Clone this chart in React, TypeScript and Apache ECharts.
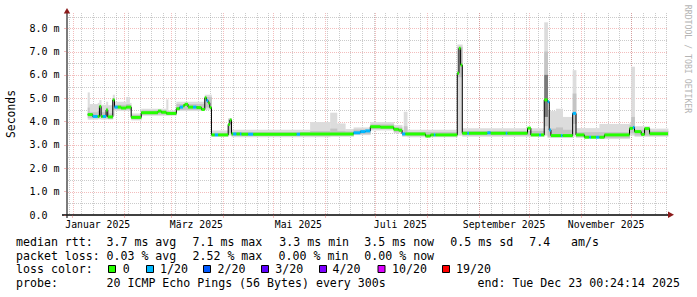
import { useEffect, useRef } from "react";
import * as echarts from "echarts";

// ---------------- data ----------------
const startTime = "2024-12-28T00:24:14";
const endTime = "2025-12-23T00:24:14";
const firstMonday = "2024-12-30";

const monthStarts = [
  "2025-01-01", "2025-02-01", "2025-03-01", "2025-04-01", "2025-05-01", "2025-06-01",
  "2025-07-01", "2025-08-01", "2025-09-01", "2025-10-01", "2025-11-01", "2025-12-01",
];
const labelDates = ["2025-01-16", "2025-03-16", "2025-05-16", "2025-07-16", "2025-09-16", "2025-11-16"];
const monthLabels = ["Januar 2025", "März 2025", "Mai 2025", "Juli 2025", "September 2025", "November 2025"];

const yTicks = [0, 1, 2, 3, 4, 5, 6, 7, 8];
const yMinor = [0.5, 1.5, 2.5, 3.5, 4.5, 5.5, 6.5, 7.5, 8.5];
const yTickLabels = ["0.0", "1.0 m", "2.0 m", "3.0 m", "4.0 m", "5.0 m", "6.0 m", "7.0 m", "8.0 m"];

// median rtt (ms), step starts; loss class index per step
const medianDates = [
  "2025-01-10", "2025-01-13", "2025-01-16", "2025-01-17", "2025-01-18", "2025-01-19", "2025-01-21", "2025-01-22",
  "2025-01-25", "2025-01-26", "2025-01-28", "2025-01-30", "2025-02-02", "2025-02-05", "2025-02-11", "2025-02-21",
  "2025-02-23", "2025-02-26", "2025-03-04", "2025-03-06", "2025-03-08", "2025-03-09", "2025-03-11", "2025-03-14",
  "2025-03-16", "2025-03-19", "2025-03-21", "2025-03-22", "2025-03-23", "2025-03-24", "2025-03-25", "2025-03-27",
  "2025-03-29", "2025-04-04", "2025-04-05", "2025-04-06", "2025-04-07", "2025-04-09", "2025-04-11", "2025-04-12",
  "2025-04-16", "2025-04-19", "2025-05-15", "2025-05-17", "2025-06-18", "2025-06-22", "2025-06-25", "2025-06-28",
  "2025-07-04", "2025-07-12", "2025-07-15", "2025-07-17", "2025-07-19", "2025-07-31", "2025-08-03", "2025-08-05",
  "2025-08-06", "2025-08-19", "2025-08-20", "2025-08-21", "2025-08-22", "2025-08-25", "2025-08-26", "2025-09-06",
  "2025-09-08", "2025-09-17", "2025-09-18", "2025-09-30", "2025-10-02", "2025-10-07", "2025-10-08", "2025-10-10",
  "2025-10-12", "2025-10-13", "2025-10-14", "2025-10-20", "2025-10-21", "2025-10-27", "2025-10-29", "2025-11-03",
  "2025-11-06", "2025-11-07", "2025-11-10", "2025-11-12", "2025-11-15", "2025-11-30", "2025-12-02", "2025-12-03",
  "2025-12-07", "2025-12-09", "2025-12-12",
];
const medianValues = [
  4.30, 4.22, 4.22, 4.65, 4.22, 4.22, 4.50, 4.20,
  4.93, 4.62, 4.62, 4.58, 4.62, 4.18, 4.38, 4.45,
  4.40, 4.35, 4.55, 4.62, 4.68, 4.74, 4.62, 4.62,
  4.60, 4.52, 5.02, 4.90, 4.80, 4.60, 3.43, 3.43,
  3.43, 3.88, 4.07, 3.47, 3.47, 3.47, 3.47, 3.46,
  3.46, 3.46, 3.46, 3.47, 3.52, 3.57, 3.60, 3.78,
  3.76, 3.67, 3.63, 3.47, 3.47, 3.38, 3.43, 3.43,
  3.43, 6.07, 7.14, 6.42, 3.50, 3.50, 3.50, 3.52,
  3.50, 3.50, 3.50, 3.72, 3.43, 3.43, 3.43, 4.93,
  4.85, 3.64, 3.40, 3.40, 3.40, 4.35, 3.43, 3.33,
  3.33, 3.33, 3.33, 3.33, 3.43, 3.71, 3.75, 3.57,
  3.45, 3.70, 3.48,
];
const medianLoss = [
  0, 1, 0, 0, 0, 1, 0, 0,
  0, 1, 0, 0, 0, 0, 0, 0,
  0, 0, 0, 1, 0, 0, 0, 1,
  0, 0, 0, 1, 0, 0, 0, 1,
  0, 0, 0, 0, 1, 0, 1, 0,
  1, 0, 1, 0, 1, 1, 1, 0,
  0, 0, 0, 1, 0, 0, 0, 1,
  0, 0, 0, 0, 0, 1, 0, 1,
  0, 1, 0, 0, 0, 1, 0, 0,
  1, 1, 0, 1, 0, 1, 0, 0,
  1, 0, 1, 0, 0, 0, 1, 0,
  0, 0, 0,
];

// smoke (spread of the 20 pings), step starts
const smokeDates = [
  "2025-01-10", "2025-01-11", "2025-01-16", "2025-01-17", "2025-01-18", "2025-01-21", "2025-01-22", "2025-01-25",
  "2025-01-26", "2025-02-02", "2025-02-04", "2025-02-05", "2025-02-11", "2025-02-26", "2025-02-27", "2025-03-04",
  "2025-03-21", "2025-03-25", "2025-04-04", "2025-04-06", "2025-05-23", "2025-06-04", "2025-06-08", "2025-06-13",
  "2025-06-18", "2025-06-28", "2025-07-12", "2025-07-17", "2025-07-18", "2025-07-20", "2025-08-19", "2025-08-22",
  "2025-10-10", "2025-10-12", "2025-10-17", "2025-10-21", "2025-10-27", "2025-10-29", "2025-11-12", "2025-11-30",
  "2025-12-01", "2025-12-03", "2025-12-12",
];
const smokeLow = [
  4.08, 4.08, 4.10, 4.10, 4.08, 4.10, 4.08, 4.25, 4.45, 4.45, 4.45, 4.05, 4.25, 4.25, 4.25, 4.45,
  4.50, 3.35, 3.40, 3.33, 3.33, 3.35, 3.35, 3.35, 3.42, 3.62, 3.50, 3.35, 3.35, 3.33, 3.40, 3.35,
  3.40, 3.30, 3.30, 3.30, 3.35, 3.30, 3.25, 3.40, 3.40, 3.35, 3.35,
];
const smokeHigh = [
  5.25, 4.75, 4.80, 4.92, 4.72, 4.85, 4.70, 5.15, 4.85, 5.05, 4.80, 4.35, 4.55, 4.95, 4.48, 4.85,
  5.15, 3.62, 4.15, 3.65, 3.98, 4.38, 3.92, 3.68, 3.75, 3.98, 3.85, 3.65, 4.42, 3.65, 7.30, 3.72,
  8.25, 4.45, 4.55, 4.20, 6.20, 3.72, 3.90, 3.95, 6.35, 3.80, 3.70,
];
const smokeInnerLow = [
  4.15, 4.15, 4.15, 4.20, 4.15, 4.15, 4.12, 4.50, 4.52, 4.52, 4.50, 4.10, 4.30, 4.28, 4.28, 4.50,
  4.60, 3.38, 3.50, 3.38, 3.38, 3.40, 3.40, 3.40, 3.46, 3.68, 3.55, 3.40, 3.40, 3.38, 5.90, 3.40,
  3.80, 3.35, 3.35, 3.35, 3.90, 3.35, 3.30, 3.50, 3.50, 3.40, 3.40,
];
const smokeInnerHigh = [
  4.60, 4.40, 4.45, 4.70, 4.40, 4.60, 4.35, 5.00, 4.72, 4.75, 4.70, 4.28, 4.48, 4.45, 4.42, 4.75,
  5.05, 3.52, 4.10, 3.55, 3.60, 3.70, 3.60, 3.58, 3.66, 3.88, 3.75, 3.55, 3.80, 3.55, 7.20, 3.60,
  7.00, 3.70, 3.75, 3.65, 5.20, 3.55, 3.55, 3.85, 4.20, 3.65, 3.60,
];
const darkStart = ["2025-10-10"];
const darkEnd = ["2025-10-12"];
const darkLow = [4.2];
const darkHigh = [6.0];

// legend
const lossColors = ["#26ff00", "#00b8ff", "#0059ff", "#5e00ff", "#7e00ff", "#dd00ff", "#ff0000"];
const lossNames = ["0", "1/20", "2/20", "3/20", "4/20", "10/20", "19/20"];
const rttTexts = ["median rtt:", "3.7 ms avg", "7.1 ms max", "3.3 ms min", "3.5 ms now", "0.5 ms sd", "7.4", "am/s"];
const lossTexts = ["packet loss:", "0.03 % avg", "2.52 % max", "0.00 % min", "0.00 % now"];
const probeTexts = ["probe:", "20 ICMP Echo Pings (56 Bytes) every 300s", "end: Tue Dec 23 00:24:14 2025"];

// ---------------- layout ----------------
const W = 697, H = 297;
const GL = 66, GT = 13, GR = 667, GB = 215;
const Y_MAX = 8.65;
const MONO = '"DejaVu Sans Mono", monospace';
const rttX = [16, 106.5, 192.5, 279.3, 364.3, 450.3, 529.3, 571];
const lossX = [16, 106.5, 192.5, 278.6, 364.3];
const probeX = [16, 106.5, 477.5];
const boxX = [108, 146, 203, 261, 319, 377.5, 442];
const boxLabelX = [122.7, 160, 217.6, 275.3, 332.6, 392, 456];
const rowY = [241.5, 255.5, 269.3, 283.2];
const RED = "rgba(225,90,90,0.4)";
const GREY = "rgba(140,140,140,0.45)";

const DAY = 86400000;
const ts = (s: string) => Date.parse(s.length === 10 ? `${s}T00:00:00Z` : `${s}Z`);

export default function App() {
  const ref = useRef<HTMLDivElement>(null);
  useEffect(() => {
    const el = ref.current;
    if (!el) return;
    const chart = echarts.init(el, undefined, { renderer: "svg", width: W, height: H });
    const xMin = ts(startTime);
    const xMax = ts(endTime);

    const mondays: number[] = [];
    for (let d = ts(firstMonday); d < xMax; d += 7 * DAY) mondays.push(d);
    const months = monthStarts.map(ts);
    const labelTs = labelDates.map(ts);

    const medianSeg = medianDates.map((d, i) => [
      ts(d), i + 1 < medianDates.length ? ts(medianDates[i + 1]) : xMax, medianValues[i], medianLoss[i],
    ]);
    const medianLine: number[][] = medianDates.map((d, i) => [ts(d), medianValues[i]]);
    medianLine.push([xMax, medianValues[medianValues.length - 1]]);

    const segEnd = (i: number) => (i + 1 < smokeDates.length ? ts(smokeDates[i + 1]) : xMax);
    const smokeOuter = smokeDates.map((d, i) => [ts(d), segEnd(i), smokeLow[i], smokeHigh[i]]);
    const smokeInner = smokeDates.map((d, i) => [ts(d), segEnd(i), smokeInnerLow[i], smokeInnerHigh[i]]);
    const smokeDark = darkStart.map((d, i) => [ts(d), ts(darkEnd[i]), darkLow[i], darkHigh[i]]);

    const rectRender = (color: string) => (_p: any, api: any) => {
      const a = api.coord([api.value(0), api.value(3)]);
      const b = api.coord([api.value(1), api.value(2)]);
      return {
        type: "rect",
        shape: { x: a[0], y: a[1], width: b[0] - a[0] + 0.4, height: b[1] - a[1] },
        style: { fill: color },
      };
    };

    const vLine = (color: string) => (_p: any, api: any) => {
      const b = api.coord([api.value(0), 0]);
      const t = api.coord([api.value(0), Y_MAX]);
      const x = Math.round(b[0]) + 0.5;
      return {
        type: "line",
        shape: { x1: x, y1: t[1], x2: x, y2: b[1] },
        style: { stroke: color, lineWidth: 1, lineDash: [1, 1] },
      };
    };
    const hLine = (color: string) => (_p: any, api: any) => {
      const a = api.coord([xMin, api.value(1)]);
      const b = api.coord([xMax, api.value(1)]);
      const y = Math.round(a[1]) + 0.5;
      return {
        type: "line",
        shape: { x1: a[0], y1: y, x2: b[0], y2: y },
        style: { stroke: color, lineWidth: 1, lineDash: [1, 1] },
      };
    };

    const text = (t: string, x: number, y: number, extra: any = {}) => ({
      type: "text",
      x,
      y,
      silent: true,
      style: { text: t, fill: "#000", font: `11.6px ${MONO}`, textVerticalAlign: "middle", ...extra },
    });

    const graphic: any[] = [
      // axes
      { type: "line", silent: true, shape: { x1: 62, y1: GB, x2: 669, y2: GB }, style: { stroke: "#000", lineWidth: 1.5 } },
      { type: "line", silent: true, shape: { x1: GL + 1, y1: 218, x2: GL + 1, y2: 12 }, style: { stroke: "#222", lineWidth: 1.2 } },
      { type: "polygon", silent: true, shape: { points: [[668, 211.5], [674, 214.8], [668, 218]] }, style: { fill: "#8b1a1a" } },
      { type: "polygon", silent: true, shape: { points: [[63.8, 13.5], [67, 8], [70.2, 13.5]] }, style: { fill: "#8b1a1a" } },
      // titles
      {
        type: "text", x: 11, y: 114, rotation: Math.PI / 2, silent: true,
        style: { text: "Seconds", fill: "#000", font: `11.4px ${MONO}`, textAlign: "center", textVerticalAlign: "middle" },
      },
      {
        type: "text", x: 688, y: 59, rotation: -Math.PI / 2, silent: true,
        style: { text: "RRDTOOL / TOBI OETIKER", fill: "#b4b4b4", font: `8.2px ${MONO}`, textAlign: "center", textVerticalAlign: "middle" },
      },
    ];
    rttTexts.forEach((t, i) => graphic.push(text(t, rttX[i], rowY[0])));
    lossTexts.forEach((t, i) => graphic.push(text(t, lossX[i], rowY[1])));
    graphic.push(text("loss color:", 16, rowY[2]));
    lossNames.forEach((t, i) => {
      graphic.push({
        type: "rect", silent: true,
        shape: { x: boxX[i] + 0.5, y: 265.5, width: 7, height: 7 },
        style: { fill: lossColors[i], stroke: "#000", lineWidth: 1 },
      });
      graphic.push(text(t, boxLabelX[i], rowY[2]));
    });
    probeTexts.forEach((t, i) => graphic.push(text(t, probeX[i], rowY[3])));

    const option: any = {
      animation: false,
      backgroundColor: "#ffffff",
      grid: { left: GL, top: GT, width: GR - GL + 1, height: GB - GT, containLabel: false },
      xAxis: {
        type: "value",
        min: xMin,
        max: xMax,
        axisLine: { show: false },
        splitLine: { show: false },
        axisTick: { show: true, customValues: months, length: 3, lineStyle: { color: RED, width: 1 } },
        axisLabel: {
          show: true,
          customValues: labelTs,
          formatter: (v: number) => {
            const i = labelTs.indexOf(v);
            return i >= 0 ? monthLabels[i] : "";
          },
          fontFamily: MONO,
          fontSize: 9.8,
          color: "#000",
          margin: 4,
        },
      },
      yAxis: {
        type: "value",
        min: 0,
        max: Y_MAX,
        axisLine: { show: false },
        splitLine: { show: false },
        axisTick: { show: true, customValues: yTicks, length: 2, lineStyle: { color: RED } },
        axisLabel: {
          show: true,
          customValues: yTicks,
          formatter: (v: number) => {
            const i = yTicks.indexOf(v);
            return i >= 0 ? yTickLabels[i] : "";
          },
          align: "left",
          margin: 36.5,
          fontFamily: MONO,
          fontSize: 10,
          color: "#000",
        },
      },
      graphic,
      series: [
        { type: "custom", z: 1, silent: true, renderItem: hLine(GREY), data: yMinor.map((v) => [xMin, v]), encode: { x: 0, y: 1 } },
        { type: "custom", z: 1, silent: true, renderItem: vLine(GREY), data: mondays.map((d) => [d, 0]), encode: { x: 0, y: 1 } },
        { type: "custom", z: 1, silent: true, renderItem: hLine(RED), data: yTicks.slice(1).map((v) => [xMin, v]), encode: { x: 0, y: 1 } },
        { type: "custom", z: 1, silent: true, renderItem: vLine(RED), data: months.map((d) => [d, 0]), encode: { x: 0, y: 1 } },
        { type: "custom", z: 2, silent: true, renderItem: rectRender("#dcdcdc"), data: smokeOuter, encode: { x: [0, 1], y: [2, 3] } },
        { type: "custom", z: 2, silent: true, renderItem: rectRender("#c4c4c4"), data: smokeInner, encode: { x: [0, 1], y: [2, 3] } },
        { type: "custom", z: 2, silent: true, renderItem: rectRender("#7a7a7a"), data: smokeDark, encode: { x: [0, 1], y: [2, 3] } },
        {
          type: "line", z: 3, silent: true, step: "end", showSymbol: false, symbol: "none",
          data: medianLine, lineStyle: { color: "#000", width: 1 },
        },
        {
          type: "custom", z: 5, silent: true, data: medianSeg, encode: { x: [0, 1], y: 2 },
          renderItem: (_p: any, api: any) => {
            const a = api.coord([api.value(0), api.value(2)]);
            const b = api.coord([api.value(1), api.value(2)]);
            return {
              type: "line",
              z2: 10,
              shape: { x1: a[0], y1: a[1], x2: b[0], y2: b[1] },
              style: { stroke: lossColors[api.value(3)], lineWidth: 3 },
            };
          },
        },
      ],
    };
    chart.setOption(option);
    return () => chart.dispose();
  }, []);
  return (
    <div
      ref={ref}
      style={{ position: "fixed", left: 0, top: 0, width: W, height: H, background: "#fff" }}
    />
  );
}
